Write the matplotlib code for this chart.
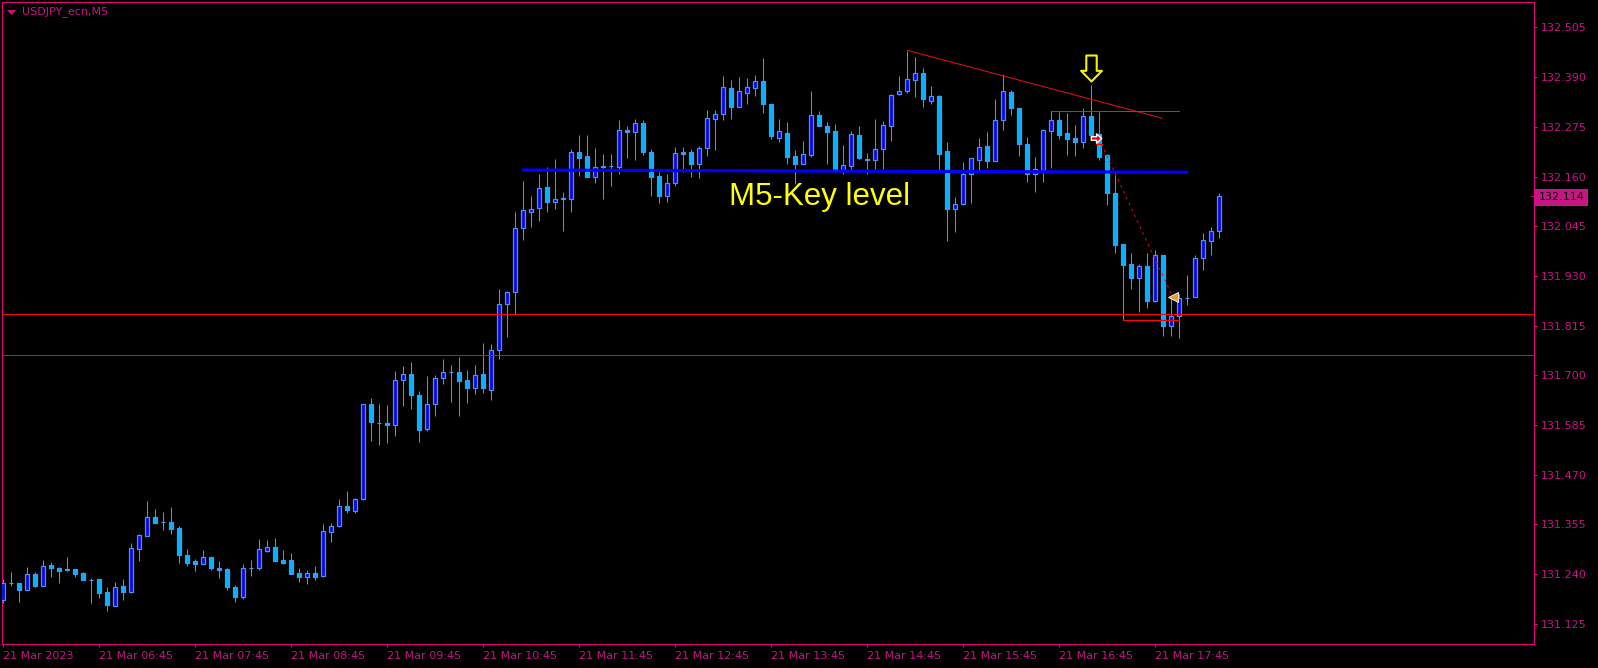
import matplotlib
matplotlib.use("Agg")
import matplotlib.pyplot as plt
import numpy as np
from matplotlib.path import Path
from matplotlib.transforms import blended_transform_factory

# USDJPY M5 candles
open_prices = [
    131.181, 131.219, 131.219, 131.204, 131.240, 131.213, 131.260, 131.253, 131.251, 131.251,
    131.242, 131.226, 131.228, 131.198, 131.167, 131.212, 131.199, 131.299, 131.327, 131.371,
    131.360, 131.360, 131.346, 131.283, 131.270, 131.264, 131.279, 131.253, 131.251, 131.209,
    131.186, 131.253, 131.253, 131.294, 131.302, 131.272, 131.272, 131.242, 131.234, 131.242,
    131.236, 131.338, 131.352, 131.397, 131.387, 131.414, 131.633, 131.590, 131.590, 131.584,
    131.688, 131.703, 131.654, 131.575, 131.633, 131.693, 131.707, 131.707, 131.689, 131.670,
    131.703, 131.667, 131.758, 131.864, 131.892, 132.040, 132.079, 132.088, 132.135, 132.100,
    132.110, 132.107, 132.216, 132.207, 132.160, 132.184, 132.184, 132.183, 132.267, 132.262,
    132.283, 132.216, 132.161, 132.116, 132.144, 132.217, 132.216, 132.190, 132.225, 132.294,
    132.304, 132.364, 132.322, 132.354, 132.366, 132.381, 132.327, 132.250, 132.260, 132.207,
    132.188, 132.211, 132.302, 132.276, 132.265, 132.175, 132.185, 132.256, 132.200, 132.199,
    132.223, 132.278, 132.350, 132.359, 132.384, 132.399, 132.336, 132.346, 132.218, 132.086,
    132.096, 132.165, 132.199, 132.230, 132.197, 132.292, 132.355, 132.319, 132.235, 132.165,
    132.174, 132.266, 132.292, 132.260, 132.249, 132.241, 132.299, 132.258, 132.209, 132.122,
    132.003, 131.958, 131.926, 131.954, 131.873, 131.978, 131.813, 131.838, 131.880, 131.882,
    131.972, 132.010, 132.035,
]
high_prices = [
    131.229, 131.245, 131.219, 131.256, 131.244, 131.272, 131.268, 131.256, 131.280, 131.251,
    131.244, 131.231, 131.228, 131.210, 131.222, 131.228, 131.312, 131.333, 131.409, 131.390,
    131.384, 131.395, 131.351, 131.298, 131.275, 131.295, 131.279, 131.270, 131.253, 131.215,
    131.263, 131.272, 131.321, 131.319, 131.324, 131.295, 131.289, 131.254, 131.249, 131.258,
    131.355, 131.357, 131.413, 131.431, 131.416, 131.633, 131.647, 131.633, 131.631, 131.710,
    131.721, 131.731, 131.664, 131.698, 131.701, 131.738, 131.724, 131.742, 131.713, 131.724,
    131.775, 131.772, 131.899, 131.895, 132.078, 132.150, 132.115, 132.166, 132.182, 132.201,
    132.125, 132.224, 132.256, 132.256, 132.226, 132.212, 132.212, 132.291, 132.277, 132.293,
    132.291, 132.224, 132.171, 132.166, 132.229, 132.229, 132.224, 132.231, 132.313, 132.313,
    132.392, 132.383, 132.390, 132.387, 132.395, 132.434, 132.327, 132.293, 132.286, 132.221,
    132.242, 132.357, 132.311, 132.286, 132.281, 132.233, 132.265, 132.277, 132.214, 132.293,
    132.288, 132.350, 132.393, 132.451, 132.436, 132.411, 132.370, 132.348, 132.239, 132.112,
    132.194, 132.202, 132.249, 132.263, 132.340, 132.397, 132.360, 132.319, 132.251, 132.205,
    132.271, 132.311, 132.310, 132.306, 132.279, 132.318, 132.372, 132.309, 132.212, 132.164,
    132.003, 131.983, 131.957, 131.983, 131.990, 131.978, 131.884, 131.887, 131.932, 131.978,
    132.029, 132.043, 132.123,
]
low_prices = [
    131.174, 131.213, 131.176, 131.204, 131.210, 131.213, 131.233, 131.219, 131.248, 131.233,
    131.225, 131.173, 131.185, 131.155, 131.167, 131.180, 131.196, 131.270, 131.327, 131.359,
    131.342, 131.333, 131.266, 131.259, 131.247, 131.264, 131.250, 131.231, 131.203, 131.176,
    131.182, 131.236, 131.250, 131.291, 131.271, 131.263, 131.241, 131.222, 131.217, 131.226,
    131.233, 131.314, 131.349, 131.381, 131.381, 131.412, 131.549, 131.539, 131.544, 131.560,
    131.628, 131.623, 131.545, 131.570, 131.605, 131.679, 131.637, 131.605, 131.635, 131.656,
    131.660, 131.642, 131.737, 131.788, 131.842, 132.014, 132.044, 132.056, 132.079, 132.084,
    132.033, 132.077, 132.162, 132.160, 132.146, 132.109, 132.137, 132.166, 132.203, 132.199,
    132.210, 132.115, 132.099, 132.101, 132.138, 132.171, 132.159, 132.157, 132.208, 132.222,
    132.291, 132.293, 132.322, 132.328, 132.347, 132.307, 132.246, 132.240, 132.189, 132.143,
    132.188, 132.206, 132.276, 132.189, 132.170, 132.166, 132.175, 132.201, 132.166, 132.178,
    132.178, 132.243, 132.348, 132.354, 132.343, 132.322, 132.329, 132.171, 132.010, 132.032,
    132.095, 132.099, 132.175, 132.180, 132.197, 132.268, 132.303, 132.208, 132.148, 132.124,
    132.148, 132.180, 132.247, 132.210, 132.208, 132.226, 132.252, 132.198, 132.093, 131.983,
    131.827, 131.900, 131.847, 131.856, 131.870, 131.791, 131.791, 131.786, 131.863, 131.882,
    131.944, 131.978, 132.018,
]
close_prices = [
    131.219, 131.219, 131.204, 131.240, 131.213, 131.258, 131.253, 131.248, 131.250, 131.241,
    131.225, 131.226, 131.197, 131.169, 131.209, 131.199, 131.300, 131.330, 131.371, 131.359,
    131.360, 131.345, 131.283, 131.266, 131.264, 131.279, 131.253, 131.250, 131.209, 131.186,
    131.253, 131.253, 131.297, 131.302, 131.271, 131.266, 131.241, 131.234, 131.242, 131.234,
    131.339, 131.351, 131.397, 131.388, 131.413, 131.633, 131.593, 131.590, 131.584, 131.689,
    131.703, 131.654, 131.573, 131.633, 131.694, 131.707, 131.707, 131.686, 131.670, 131.701,
    131.670, 131.758, 131.865, 131.893, 132.041, 132.082, 132.084, 132.133, 132.100, 132.108,
    132.107, 132.216, 132.204, 132.160, 132.182, 132.181, 132.184, 132.267, 132.263, 132.283,
    132.216, 132.158, 132.116, 132.145, 132.214, 132.213, 132.189, 132.226, 132.295, 132.304,
    132.367, 132.322, 132.357, 132.367, 132.381, 132.329, 132.253, 132.265, 132.206, 132.188,
    132.212, 132.302, 132.276, 132.262, 132.175, 132.186, 132.258, 132.204, 132.198, 132.223,
    132.279, 132.348, 132.357, 132.385, 132.399, 132.340, 132.346, 132.213, 132.086, 132.096,
    132.165, 132.202, 132.228, 132.195, 132.292, 132.357, 132.319, 132.236, 132.165, 132.177,
    132.267, 132.292, 132.257, 132.248, 132.241, 132.299, 132.257, 132.206, 132.121, 132.002,
    131.955, 131.925, 131.954, 131.873, 131.978, 131.813, 131.837, 131.878, 131.880, 131.971,
    132.012, 132.035, 132.114,
]

y_ticks = [132.505, 132.390, 132.275, 132.160, 132.045, 131.930, 131.815,
           131.700, 131.585, 131.470, 131.355, 131.240, 131.125]
x_tick_pos = [0, 12, 24, 36, 48, 60, 72, 84, 96, 108, 120, 132, 144]
x_tick_labels = ["21 Mar 2023", "21 Mar 06:45", "21 Mar 07:45", "21 Mar 08:45",
                 "21 Mar 09:45", "21 Mar 10:45", "21 Mar 11:45", "21 Mar 12:45",
                 "21 Mar 13:45", "21 Mar 14:45", "21 Mar 15:45", "21 Mar 16:45",
                 "21 Mar 17:45"]
last_price = 132.114

# drawn objects
support_levels = [131.841, 131.746]
key_level_x = [64.9, 148.1]
key_level_y = [132.175, 132.170]
trend_x = [113.05, 144.9]
trend_y = [132.452, 132.295]
neck_x = [131, 147]
neck_y = [132.311, 132.311]
drop_x = [136.95, 146.1]
drop_y = [132.249, 131.886]
base_x = [140, 147]
base_y = [131.827, 131.827]
stop_x = [136.6, 137.4]
stop_y = [132.235, 132.235]

BG = "black"
FRAME = "#E6007E"
LABEL = "#C71585"
WICK = "#5591E8"
BULL = "#0A0AE6"
BEAR = "#00B4FF"
px = 0.72  # one pixel in points at dpi 100

fig = plt.figure(figsize=(15.98, 6.68), dpi=100, facecolor=BG)
ax = fig.add_axes([2.0 / 1598, 24 / 668, 1531.5 / 1598, 642 / 668], facecolor=BG)
ax.set_xlim(-0.125, 191.31)
ax.set_ylim(131.078, 132.564)

opens = np.array(open_prices)
closes = np.array(close_prices)
idx = np.arange(len(opens))
rising = closes > opens

ax.vlines(idx, low_prices, high_prices, color=WICK, lw=px, zorder=2)
ax.bar(idx, np.abs(closes - opens), bottom=np.minimum(opens, closes), width=0.55,
       color=np.where(rising, BULL, BEAR), edgecolor=WICK, linewidth=px * 1.2, zorder=3)

for level in support_levels:
    ax.axhline(level, color="red", lw=px, zorder=4)
ax.plot(key_level_x, key_level_y, color="#0000FF", lw=2.3, zorder=5, solid_capstyle="butt")
ax.plot(trend_x, trend_y, color="#E81010", lw=px, zorder=5)
ax.plot(neck_x, neck_y, color="#E02020", lw=px, zorder=5)
ax.plot(drop_x, drop_y, color="red", lw=px, ls=(0, (2.5, 4)), zorder=5)
ax.plot(base_x, base_y, color="red", lw=px * 1.3, zorder=5)
ax.plot(stop_x, stop_y, color="red", lw=px * 1.3, zorder=5)

# yellow hollow arrow over the swing high
arrow = Path([(-0.4, 1), (0.4, 1), (0.4, -0.18), (0.8, -0.18), (0, -1),
              (-0.8, -0.18), (-0.4, -0.18), (-0.4, 1)], closed=True)
ax.plot([136], [132.411], marker=arrow, ms=18.7, mfc="none", mec="#F5F500", mew=1.5,
        ls="none", zorder=6)
# entry and exit marks
right_arrow = Path([(-1, 0.35), (0, 0.35), (0, 0.9), (1, 0), (0, -0.9), (0, -0.35),
                    (-1, -0.35), (-1, 0.35)], closed=True)
ax.plot([136.6], [132.249], marker=right_arrow, ms=7.5, mfc="red", mec="white", mew=1,
        ls="none", zorder=6)
ax.plot([146.2], [131.882], marker="<", ms=6.5, mfc="#E0A030", mec="white", mew=0.6,
        ls="none", zorder=6)

ax.text(90.8, 132.094, "M5-Key level", color="#FFFF00", fontsize=22.5,
        family="Liberation Sans", va="baseline", ha="left", zorder=7)

for s in ax.spines.values():
    s.set_color(FRAME)
    s.set_linewidth(px)

ax.yaxis.tick_right()
ax.set_yticks(y_ticks)
ax.set_yticklabels([f"{v:.3f}" for v in y_ticks])
ax.set_xticks(x_tick_pos)
ax.set_xticklabels(x_tick_labels, ha="left")
ax.tick_params(axis="y", colors=FRAME, labelcolor=LABEL, length=2.2, width=px, pad=3, labelsize=8)
ax.tick_params(axis="x", colors=FRAME, labelcolor=LABEL, length=1.8, width=px, pad=3, labelsize=8)

# last price tag on the scale
tr = blended_transform_factory(ax.transAxes, ax.transData)
ax.plot([1.0], [last_price], marker="_", ms=4, mec=FRAME, mew=px, transform=tr, clip_on=False)
ax.text(1 + 5 / 1531.5, last_price, f"{last_price:.3f}", color="black", fontsize=8,
        va="center_baseline", ha="left", transform=tr, clip_on=False,
        bbox=dict(boxstyle="square,pad=0.3", fc=LABEL, ec=LABEL, lw=0))

# symbol caption, top left
caption_mark = Path([(-1, 0.55), (1, 0.55), (0, -0.55), (-1, 0.55)], closed=True)
ax.plot([9 / 1531.5], [1 - 10 / 642], marker=caption_mark, ms=6.5, color=FRAME, mew=0,
        transform=ax.transAxes, clip_on=False, zorder=8)
ax.text(19.5 / 1531.5, 1 - 10 / 642, "USDJPY_ecn,M5", color=LABEL, fontsize=8,
        va="center", ha="left", transform=ax.transAxes, zorder=8)

fig.savefig("out.png", dpi=100, facecolor=BG)
